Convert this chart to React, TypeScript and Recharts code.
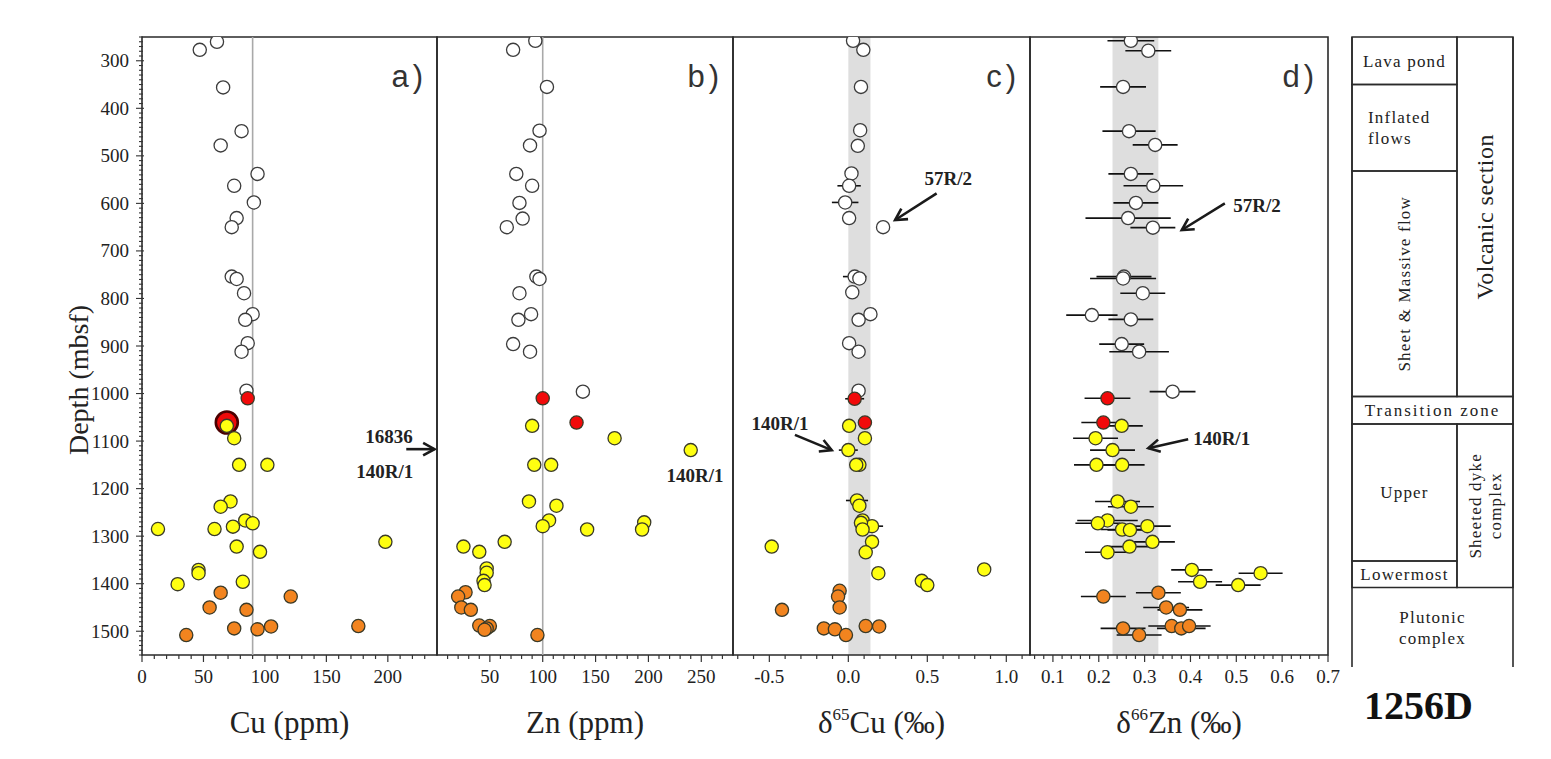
import React from 'react';
import {
  ScatterChart, Scatter, XAxis, YAxis, ReferenceArea, ReferenceLine, ReferenceDot, ErrorBar,
} from 'recharts';

const SERIF = '"Liberation Serif", "Times New Roman", Times, serif';
const SANS = '"Liberation Sans", Arial, Helvetica, sans-serif';
const INK = '#222';

// ---------------- data ----------------
type Pt = [number, number, string, number?]; // [depth, value, group, error]

const depthDomain: [number, number] = [250, 1550];
const depthLabels = [300, 400, 500, 600, 700, 800, 900, 1000, 1100, 1200, 1300, 1400, 1500];

const cuDomain: [number, number] = [0, 240];
const cuLabels = [0, 50, 100, 150, 200];
const znDomain: [number, number] = [0, 280];
const znLabels = [50, 100, 150, 200, 250];
const cuIsoDomain: [number, number] = [-0.73, 1.15];
const cuIsoLabels = [-0.5, 0, 0.5, 1.0];
const znIsoDomain: [number, number] = [0.05, 0.7];
const znIsoLabels = [0.1, 0.2, 0.3, 0.4, 0.5, 0.6, 0.7];

const cuMantle = 90;
const znMantle = 100;
const cuIsoBand: [number, number] = [0, 0.14];
const znIsoBand: [number, number] = [0.23, 0.33];

const cuPoints: Pt[] = [
  [260, 61, 'o'], [277, 47, 'o'], [356, 66, 'o'], [448, 81, 'o'], [478, 64, 'o'], [538, 94, 'o'],
  [563, 75, 'o'], [598, 91, 'o'], [631, 77, 'o'], [650, 73, 'o'], [754, 73, 'o'], [759, 77, 'o'],
  [789, 83, 'o'], [833, 90, 'o'], [845, 84, 'o'], [894, 86, 'o'], [912, 81, 'o'], [994, 85, 'o'],
  [1010, 86, 'r'], [1061, 69, 'R'],
  [1068, 69, 'y'], [1094, 75, 'y'], [1150, 79, 'y'], [1150, 102, 'y'], [1227, 72, 'y'], [1238, 64, 'y'],
  [1267, 84, 'y'], [1273, 90, 'y'], [1285, 13, 'y'], [1285, 59, 'y'], [1280, 74, 'y'], [1312, 198, 'y'],
  [1322, 77, 'y'], [1333, 96, 'y'], [1371, 46, 'y'], [1378, 46, 'y'], [1401, 29, 'y'], [1396, 82, 'y'],
  [1419, 64, 'g'], [1427, 121, 'g'], [1450, 55, 'g'], [1455, 85, 'g'], [1508, 36, 'g'], [1494, 75, 'g'],
  [1496, 94, 'g'], [1490, 105, 'g'], [1489, 176, 'g'],
];

const znPoints: Pt[] = [
  [258, 93, 'o'], [277, 72, 'o'], [355, 104, 'o'], [447, 97, 'o'], [478, 88, 'o'], [538, 75, 'o'],
  [563, 90, 'o'], [599, 78, 'o'], [632, 81, 'o'], [650, 66, 'o'], [754, 94, 'o'], [759, 97, 'o'],
  [789, 78, 'o'], [833, 89, 'o'], [845, 77, 'o'], [896, 72, 'o'], [912, 88, 'o'], [996, 138, 'o'],
  [1010, 100, 'r'], [1061, 132, 'r'],
  [1068, 90, 'y'], [1094, 168, 'y'], [1119, 240, 'y'], [1150, 92, 'y'], [1150, 108, 'y'], [1227, 87, 'y'],
  [1236, 113, 'y'], [1267, 106, 'y'], [1279, 100, 'y'], [1286, 142, 'y'], [1271, 196, 'y'], [1286, 194, 'y'],
  [1312, 64, 'y'], [1322, 25, 'y'], [1333, 40, 'y'], [1368, 47, 'y'], [1377, 47, 'y'], [1394, 44, 'y'],
  [1403, 45, 'y'],
  [1418, 27, 'g'], [1427, 20, 'g'], [1450, 23, 'g'], [1455, 32, 'g'], [1488, 40, 'g'], [1489, 50, 'g'],
  [1494, 47, 'g'], [1497, 45, 'g'], [1508, 95, 'g'],
];

const cuIsoPoints: Pt[] = [
  [258, 0.03, 'o'], [277, 0.095, 'o'], [355, 0.08, 'o'], [446, 0.075, 'o'], [479, 0.06, 'o'],
  [537, 0.02, 'o'], [563, 0.005, 'o', 0.074], [598, -0.02, 'o', 0.084], [631, 0.005, 'o'],
  [650, 0.22, 'o'], [754, 0.04, 'o', 0.074], [758, 0.07, 'o'], [787, 0.025, 'o'], [833, 0.14, 'o'],
  [845, 0.065, 'o'], [894, 0.005, 'o'], [912, 0.065, 'o'], [994, 0.065, 'o'],
  [1011, 0.04, 'r', 0.06], [1061, 0.105, 'r'],
  [1068, 0.005, 'y'], [1094, 0.105, 'y'], [1119, 0.0, 'y', 0.06], [1150, 0.07, 'y'], [1150, 0.05, 'y'],
  [1225, 0.055, 'y', 0.07], [1236, 0.07, 'y'], [1267, 0.09, 'y'], [1279, 0.15, 'y', 0.07],
  [1272, 0.08, 'y'], [1286, 0.09, 'y'], [1322, -0.485, 'y'], [1312, 0.15, 'y'], [1334, 0.11, 'y'],
  [1378, 0.19, 'y'], [1370, 0.86, 'y'], [1394, 0.465, 'y'], [1403, 0.5, 'y'],
  [1415, -0.055, 'g'], [1427, -0.065, 'g'], [1450, -0.055, 'g'], [1455, -0.42, 'g'], [1494, -0.155, 'g'],
  [1496, -0.085, 'g'], [1508, -0.015, 'g'], [1489, 0.11, 'g'], [1490, 0.195, 'g'],
];

const znIsoPoints: Pt[] = [
  [258, 0.27, 'o', 0.051], [279, 0.308, 'o', 0.05], [355, 0.253, 'o', 0.05], [448, 0.266, 'o', 0.058],
  [477, 0.323, 'o', 0.049], [538, 0.27, 'o', 0.049], [563, 0.319, 'o', 0.065], [599, 0.281, 'o', 0.049],
  [631, 0.264, 'o', 0.093], [651, 0.318, 'o', 0.049], [754, 0.255, 'o', 0.06], [758, 0.253, 'o', 0.072],
  [789, 0.296, 'o', 0.049], [835, 0.185, 'o', 0.056], [844, 0.27, 'o', 0.049], [896, 0.25, 'o', 0.049],
  [912, 0.288, 'o', 0.065], [996, 0.361, 'o', 0.05],
  [1010, 0.219, 'r', 0.05], [1061, 0.21, 'r', 0.048],
  [1068, 0.25, 'y', 0.046], [1094, 0.193, 'y', 0.049], [1119, 0.23, 'y', 0.049], [1150, 0.195, 'y', 0.049],
  [1150, 0.251, 'y', 0.049], [1227, 0.241, 'y', 0.049], [1238, 0.27, 'y', 0.05], [1267, 0.219, 'y', 0.066],
  [1273, 0.198, 'y', 0.049], [1286, 0.251, 'y', 0.047], [1287, 0.268, 'y', 0.049], [1279, 0.306, 'y', 0.051],
  [1312, 0.317, 'y', 0.049], [1322, 0.267, 'y', 0.045], [1334, 0.219, 'y', 0.049], [1371, 0.403, 'y', 0.045],
  [1378, 0.553, 'y', 0.048], [1396, 0.421, 'y', 0.048], [1403, 0.504, 'y', 0.049],
  [1427, 0.21, 'g', 0.049], [1419, 0.33, 'g', 0.049], [1450, 0.347, 'g', 0.05], [1455, 0.377, 'g', 0.049],
  [1489, 0.359, 'g', 0.051], [1494, 0.38, 'g', 0.053], [1489, 0.397, 'g', 0.047], [1494, 0.253, 'g', 0.049],
  [1508, 0.288, 'g', 0.049],
];

// annotations: [text, value, depth]
const cuNotes: [string, number, number][] = [['16836', 201, 1089], ['140R/1', 197.5, 1162]];
const cuArrows: [number, number, number, number][] = [[215, 1117, 238, 1117]];
const znNotes: [string, number, number][] = [['140R/1', 244, 1171]];
const cuIsoNotes: [string, number, number][] = [['57R/2', 0.633, 547], ['140R/1', -0.433, 1062]];
const cuIsoArrows: [number, number, number, number][] = [[0.559, 579, 0.296, 635], [-0.338, 1087, -0.105, 1119]];
const znIsoNotes: [string, number, number][] = [['57R/2', 0.545, 603], ['140R/1', 0.468, 1094]];
const znIsoArrows: [number, number, number, number][] = [[0.475, 600, 0.381, 656], [0.395, 1096, 0.308, 1115]];

// stratigraphic column of Hole 1256D
const unitNames = ['Lava pond', 'Inflated\nflows', 'Sheet & Massive flow', 'Volcanic section', 'Transition zone',
  'Upper', 'Lowermost', 'Sheeted dyke\ncomplex', 'Plutonic\ncomplex'];
const unitTop = [250, 350, 532, 250, 1006, 1064, 1352, 1064, 1408];
const unitBase = [350, 532, 1006, 1006, 1064, 1352, 1408, 1408, 1575];
const unitSpan = ['L', 'L', 'L', 'R', 'F', 'L', 'L', 'R', 'F'];
const columnDomain: [number, number] = [250, 1575];

// ---------------- helpers ----------------
const range = (a: number, b: number, step: number): number[] => {
  const n = Math.round((b - a) / step);
  return Array.from({ length: n + 1 }, (_, i) => +(a + i * step).toFixed(4));
};

const depthTicks = range(250, 1550, 10);
const cuTicks = range(0, 230, 10);
const znTicks = range(10, 270, 10);
const cuIsoTicks = range(-0.7, 1.1, 0.1);
const znIsoTicks = range(0.06, 0.7, 0.02);

const CHART_H = 759;
const PLOT_TOP = 37;
const PLOT_H = 618;
const AXIS_H = CHART_H - PLOT_TOP - PLOT_H;

const FILL: Record<string, string> = { o: '#ffffff', r: '#f20a0a', R: '#ee0a0a', y: '#ffff10', g: '#f2841f' };

const renderMarker = (p: any) => {
  if (p == null || p.cx == null || p.cy == null) return <g />;
  const g = (p.payload && p.payload.g) || p.g || 'o';
  if (g === 'R') {
    return <circle cx={p.cx} cy={p.cy} r={11} fill={FILL.R} stroke="#4a0000" strokeWidth={2.6} />;
  }
  return (
    <circle cx={p.cx} cy={p.cy} r={6.6} fill={FILL[g]}
      stroke={g === 'o' ? '#3c3c3c' : '#3a3a28'} strokeWidth={1.3} />
  );
};

const toRows = (pts: Pt[]) => pts.map(([d, v, g, e]) => ({ x: v, y: d, g, e: e ?? 0 }));

const near = (a: number, b: number) => Math.abs(a - b) < 1e-6;

const makeXTick = (labels: number[], fmt: (v: number) => string) => (props: any) => {
  const { x, y, payload } = props;
  const v = payload.value as number;
  const major = labels.some((l) => near(l, v));
  return (
    <g>
      <line x1={x} x2={x} y1={y} y2={y + (major ? 7 : 4)} stroke="#333" strokeWidth={1.2} />
      {major && (
        <text x={x} y={y + 28} textAnchor="middle" fontFamily={SERIF} fontSize={19} fill={INK}>{fmt(v)}</text>
      )}
    </g>
  );
};

const YTick = (props: any) => {
  const { x, y, payload } = props;
  const v = payload.value as number;
  const major = v % 100 === 0;
  const lab = depthLabels.includes(v);
  return (
    <g>
      <line x1={x - (major ? 6 : 3)} x2={x + (major ? 2 : 1)} y1={y} y2={y} stroke="#333" strokeWidth={1.1} />
      {lab && (
        <text x={x - 13} y={y} dy={6.5} textAnchor="end" fontFamily={SERIF} fontSize={19} fill={INK}>{v}</text>
      )}
    </g>
  );
};

const titleContent = (pre: string, sup: string, main: string) => (props: any) => {
  const vb = props.viewBox || props;
  const cx = vb.x + vb.width / 2;
  const y = vb.y + 78;
  return (
    <text x={cx} y={y} textAnchor="middle" fontFamily={SERIF} fontSize={31} fill={INK}>
      {pre ? <tspan>{pre}</tspan> : null}
      {sup ? <tspan dy={-13} fontSize={17}>{sup}</tspan> : null}
      <tspan dy={sup ? 13 : 0}>{main}</tspan>
    </text>
  );
};

const depthTitle = (props: any) => {
  const vb = props.viewBox || props;
  const cx = vb.x + 78;
  const cy = vb.y + vb.height / 2 + 34;
  return (
    <text x={cx} y={cy} transform={`rotate(-90 ${cx} ${cy})`} textAnchor="middle" dy={10}
      fontFamily={SERIF} fontSize={28} fill={INK}>Depth (mbsf)</text>
  );
};

const letterShape = (txt: string) => (p: any) => (
  <text x={p.cx - 10} y={p.cy + 50} textAnchor="end" fontFamily={SANS} fontSize={31}
    letterSpacing={4} fill="#333">{txt}</text>
);

const noteShape = (txt: string) => (p: any) => (
  <text x={p.cx} y={p.cy} dy={7} textAnchor="middle" fontFamily={SERIF} fontWeight="bold"
    fontSize={19} fill={INK}>{txt}</text>
);

const arrowShape = (p: any) => {
  const { x1, y1, x2, y2 } = p;
  if ([x1, y1, x2, y2].some((v) => v == null || Number.isNaN(v))) return <g />;
  const ang = Math.atan2(y2 - y1, x2 - x1);
  const L = 13;
  const A = 0.5;
  const ax = x2 - L * Math.cos(ang - A);
  const ay = y2 - L * Math.sin(ang - A);
  const bx = x2 - L * Math.cos(ang + A);
  const by = y2 - L * Math.sin(ang + A);
  return (
    <g>
      <line x1={x1} y1={y1} x2={x2} y2={y2} stroke="#1a1a1a" strokeWidth={2.6} />
      <polyline points={`${ax},${ay} ${x2},${y2} ${bx},${by}`} fill="none" stroke="#1a1a1a"
        strokeWidth={2.6} strokeLinejoin="miter" />
    </g>
  );
};

type PanelProps = {
  left: number;
  plotW: number;
  yAxisW: number;
  padR?: number;
  domain: [number, number];
  ticks: number[];
  labels: number[];
  fmt: (v: number) => string;
  points: Pt[];
  errors?: boolean;
  letter: string;
  title: [string, string, string];
  extras: React.ReactNode[];
};

function Panel(props: PanelProps) {
  const { left, plotW, yAxisW, domain, ticks, labels, fmt, points, errors, letter, title, extras } = props;
  const padL = yAxisW > 0 ? 0 : 2;
  const padR = props.padR ?? 2;
  const width = yAxisW + padL + plotW + padR;
  return (
    <div style={{ position: 'absolute', left, top: 0 }}>
      <ScatterChart width={width} height={CHART_H}
        margin={{ top: PLOT_TOP, right: padR, left: padL, bottom: 0 }}>
        <XAxis type="number" dataKey="x" domain={domain} ticks={ticks} interval={0} allowDataOverflow
          tick={makeXTick(labels, fmt)} tickLine={false} axisLine={false} tickSize={0} tickMargin={0}
          height={AXIS_H} label={{ content: titleContent(title[0], title[1], title[2]) } as any} />
        {yAxisW > 0 ? (
          <YAxis type="number" dataKey="y" domain={depthDomain} reversed allowDataOverflow ticks={depthTicks}
            interval={0} width={yAxisW} tick={YTick} tickLine={false} axisLine={false} tickSize={0}
            tickMargin={0} label={{ content: depthTitle } as any} />
        ) : (
          <YAxis type="number" dataKey="y" domain={depthDomain} reversed allowDataOverflow hide />
        )}
        {extras}
        <ReferenceArea x1={domain[0]} x2={domain[1]} y1={depthDomain[0]} y2={depthDomain[1]}
          fill="none" fillOpacity={0} stroke="#2a2a2a" strokeWidth={1.6} ifOverflow="visible" />
        <ReferenceDot x={domain[1]} y={depthDomain[0]} r={0} ifOverflow="visible" shape={letterShape(letter)} />
        <Scatter data={toRows(points)} shape={renderMarker} isAnimationActive={false}>
          {errors ? (
            <ErrorBar dataKey="e" direction="x" width={0} stroke="#111" strokeWidth={1.6} />
          ) : null}
        </Scatter>
      </ScatterChart>
    </div>
  );
}

const notesEls = (notes: [string, number, number][], key: string) =>
  notes.map(([t, x, y], i) => (
    <ReferenceDot key={`${key}n${i}`} x={x} y={y} r={0} ifOverflow="visible" shape={noteShape(t)} />
  ));

const arrowEls = (arrows: [number, number, number, number][], key: string) =>
  arrows.map(([xa, ya, xb, yb], i) => (
    <ReferenceLine key={`${key}a${i}`} segment={[{ x: xa, y: ya }, { x: xb, y: yb }]}
      ifOverflow="visible" shape={arrowShape} />
  ));

// ------------- stratigraphic column -------------
const COL_SPLIT = 0.652;

const unitLabel = (name: string, idx: number) => (props: any) => {
  const vb = props.viewBox || props;
  const cx = vb.x + vb.width / 2;
  const cy = vb.y + vb.height / 2;
  const lines = name.split('\n');
  const rotated = idx === 2 || idx === 3 || idx === 7;
  const size = idx === 3 ? 24 : 17;
  const spacing = idx === 3 ? 0.5 : idx === 4 ? 2 : 1.2;
  const lh = size * 1.22;
  if (rotated) {
    return (
      <g transform={`translate(${cx} ${cy}) rotate(-90)`}>
        {lines.map((ln, i) => (
          <text key={i} x={0} y={(i - (lines.length - 1) / 2) * lh} dy={size * 0.35} textAnchor="middle"
            fontFamily={SERIF} fontSize={size} letterSpacing={spacing} fill={INK}>{ln}</text>
        ))}
      </g>
    );
  }
  const alignStart = idx === 1;
  return (
    <g>
      {lines.map((ln, i) => (
        <text key={i} x={alignStart ? vb.x + 16 : cx} y={cy + (i - (lines.length - 1) / 2) * lh}
          dy={size * 0.35} textAnchor={alignStart ? 'start' : 'middle'} fontFamily={SERIF} fontSize={size}
          letterSpacing={spacing} fill={INK}>{ln}</text>
      ))}
    </g>
  );
};

const siteTitle = (props: any) => {
  const vb = props.viewBox || props;
  return (
    <text x={vb.x + vb.width / 2 - 14} y={vb.y + 52} textAnchor="middle" fontFamily={SERIF}
      fontWeight="bold" fontSize={40} fill="#111">1256D</text>
  );
};

function Column() {
  const plotW = 161;
  const plotH = CHART_H - PLOT_TOP - 92;
  return (
    <div style={{ position: 'absolute', left: 1350, top: 0 }}>
      <ScatterChart width={plotW + 4} height={CHART_H} margin={{ top: PLOT_TOP, right: 2, left: 2, bottom: 0 }}>
        <XAxis type="number" dataKey="x" domain={[0, 1]} allowDataOverflow tick={false} tickLine={false}
          axisLine={false} height={CHART_H - PLOT_TOP - plotH} label={{ content: siteTitle } as any} />
        <YAxis type="number" dataKey="y" domain={columnDomain} reversed allowDataOverflow hide />
        {unitNames.map((n, i) => {
          const x1 = unitSpan[i] === 'R' ? COL_SPLIT : 0;
          const x2 = unitSpan[i] === 'L' ? COL_SPLIT : 1;
          const last = i === unitNames.length - 1;
          return (
            <ReferenceArea key={`u${i}`} x1={x1} x2={x2} y1={unitTop[i]} y2={unitBase[i]} fill="none"
              fillOpacity={0} stroke={last ? 'none' : '#2a2a2a'} strokeWidth={1.5} ifOverflow="visible"
              label={{ content: unitLabel(n, i) } as any} />
          );
        })}
        <ReferenceLine x={0} stroke="#2a2a2a" strokeWidth={1.6} ifOverflow="visible" />
        <ReferenceLine x={1} stroke="#2a2a2a" strokeWidth={1.6} ifOverflow="visible" />
        <Scatter data={[{ x: 0.5, y: 900 }]} shape={() => <g />} isAnimationActive={false} />
      </ScatterChart>
    </div>
  );
}

export default function App() {
  const f1 = (v: number) => v.toFixed(1);
  const f0 = (v: number) => String(v);
  return (
    <div style={{ position: 'absolute', left: 0, top: 0, width: 1551, height: 759, background: '#fff', overflow: 'hidden' }}>
      <Panel left={0} plotW={295} yAxisW={142} domain={cuDomain} ticks={cuTicks} labels={cuLabels} fmt={f0}
        points={cuPoints} letter="a)" title={['', '', 'Cu (ppm)']}
        extras={[
          <ReferenceLine key="cm" x={cuMantle} stroke="#a9a9a9" strokeWidth={1.6} />,
          ...notesEls(cuNotes, 'cu'),
          ...arrowEls(cuArrows, 'cu'),
        ]} />
      <Panel left={435} plotW={296} yAxisW={0} domain={znDomain} ticks={znTicks} labels={znLabels} fmt={f0}
        points={znPoints} letter="b)" title={['', '', 'Zn (ppm)']}
        extras={[
          <ReferenceLine key="zm" x={znMantle} stroke="#a9a9a9" strokeWidth={1.6} />,
          ...notesEls(znNotes, 'zn'),
        ]} />
      <Panel left={731} plotW={297} yAxisW={0} domain={cuIsoDomain} ticks={cuIsoTicks} labels={cuIsoLabels}
        fmt={f1} points={cuIsoPoints} errors letter="c)" title={['δ', '65', 'Cu (‰)']}
        extras={[
          <ReferenceArea key="cb" x1={cuIsoBand[0]} x2={cuIsoBand[1]} fill="#dedede" fillOpacity={1} stroke="none" />,
          ...notesEls(cuIsoNotes, 'ci'),
          ...arrowEls(cuIsoArrows, 'ci'),
        ]} />
      <Panel left={1028} plotW={298} yAxisW={0} padR={20} domain={znIsoDomain} ticks={znIsoTicks}
        labels={znIsoLabels} fmt={f1} points={znIsoPoints} errors letter="d)" title={['δ', '66', 'Zn (‰)']}
        extras={[
          <ReferenceArea key="zb" x1={znIsoBand[0]} x2={znIsoBand[1]} fill="#dedede" fillOpacity={1} stroke="none" />,
          ...notesEls(znIsoNotes, 'zi'),
          ...arrowEls(znIsoArrows, 'zi'),
        ]} />
      <Column />
    </div>
  );
}
